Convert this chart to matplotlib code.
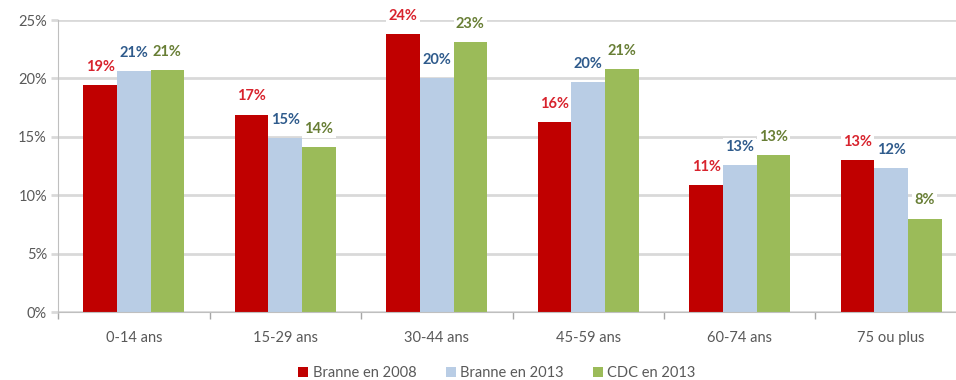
import numpy as np
import matplotlib.pyplot as plt

# Données : part de chaque tranche d'âge (%)
tranches = ["0-14 ans", "15-29 ans", "30-44 ans", "45-59 ans", "60-74 ans", "75 ou plus"]
branne_2008 = [19.4, 16.9, 23.8, 16.3, 10.9, 13.0]
branne_2013 = [20.6, 14.9, 20.0, 19.7, 12.6, 12.3]
cdc_2013 = [20.7, 14.1, 23.1, 20.8, 13.4, 8.0]

series = [
    ("Branne en 2008", branne_2008, "#C00000", "#D8232D"),
    ("Branne en 2013", branne_2013, "#B9CDE5", "#2F5B8C"),
    ("CDC en 2013", cdc_2013, "#9BBB59", "#687E35"),
]

plt.rcParams['font.family'] = ['Lato', 'DejaVu Sans']

fig = plt.figure(figsize=(9.56, 3.8), dpi=100)
ax = fig.add_axes([58 / 956, 1 - 312 / 380, 909 / 956, 292 / 380])

x = np.arange(len(tranches))
largeur = 0.222

for i, (nom, valeurs, couleur, couleur_txt) in enumerate(series):
    pos = x + (i - 1) * largeur
    barres = ax.bar(pos, valeurs, width=largeur, color=couleur, label=nom, zorder=2)
    for b, v in zip(barres, valeurs):
        ax.annotate(f"{v:.0f}%", (b.get_x() + b.get_width() / 2, v),
                    xytext=(0, 8), textcoords="offset points",
                    ha="center", va="bottom", fontsize=10.5, fontweight="bold",
                    color=couleur_txt, zorder=3,
                    bbox=dict(boxstyle="square,pad=0.15", fc="white", ec="none"))

ax.set_xlim(-0.5, len(tranches) - 0.5)
ax.set_ylim(0, 25)
ax.set_yticks(range(0, 26, 5))
ax.set_yticklabels([f"{t}%" for t in range(0, 26, 5)])
ax.yaxis.grid(True, color="#D9D9D9", linewidth=2, zorder=0)
ax.set_axisbelow(True)

# Graduations de l'axe X entre les groupes
ax.set_xticks(x)
ax.set_xticklabels(tranches)
ax.set_xticks(np.arange(-0.5, len(tranches), 1), minor=True)
ax.tick_params(axis="x", which="major", length=0, pad=14, labelsize=10.5, labelcolor="#595959")
ax.tick_params(axis="x", which="minor", length=5, color="#A6A6A6", width=1)
ax.tick_params(axis="y", length=5, color="#D9D9D9", width=2, labelsize=10.5, labelcolor="#595959", pad=3)

for cote in ["top", "right"]:
    ax.spines[cote].set_visible(False)
ax.spines["left"].set_color("#BFBFBF")
ax.spines["bottom"].set_color("#BFBFBF")

fig.legend(loc="center", bbox_to_anchor=(497 / 956, 1 - 373 / 380), ncol=3, frameon=False,
           fontsize=10.5, handlelength=0.7, handleheight=0.7, handletextpad=0.3,
           columnspacing=2.0, labelcolor="#595959")

fig.savefig("out.png", dpi=100)
